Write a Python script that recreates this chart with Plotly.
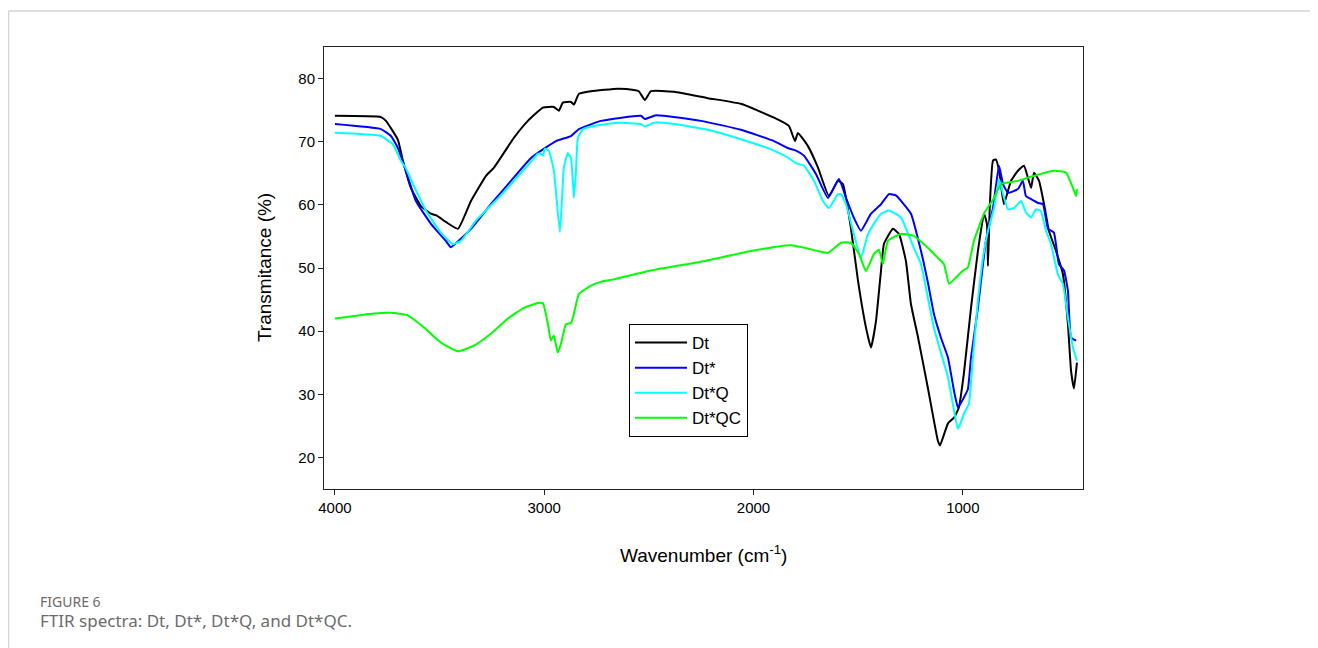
import plotly.graph_objects as go

# ---------------- data ----------------
dt_w = [4000, 3780, 3756, 3699, 3675, 3637, 3589, 3541, 3513, 3470, 3412, 3350, 3278, 3240, 3145,
        3078, 3006, 2954, 2930, 2911, 2872, 2858, 2834, 2777, 2648, 2571, 2548, 2519, 2490, 2380,
        2218, 2060, 1902, 1831, 1802, 1788, 1740, 1692, 1640, 1597, 1573, 1535, 1501, 1463, 1439,
        1415, 1391, 1377, 1334, 1305, 1272, 1248, 1214, 1167, 1119, 1109, 1071, 1042, 1019, 995,
        961, 928, 899, 885, 880, 871, 856, 842, 827, 804, 770, 737, 708, 689, 674,
        660, 636, 612, 589, 555, 522, 498, 483, 469, 455]
dt_t = [74.1, 73.9, 73.3, 70.3, 67.0, 62.7, 59.8, 58.6, 58.3, 57.3, 56.2, 60.6, 64.6, 65.9, 70.6,
        73.3, 75.4, 75.5, 74.9, 76.2, 76.3, 75.9, 77.6, 78.0, 78.4, 78.2, 78.0, 76.6, 78.0, 77.9,
        76.9, 76.0, 73.8, 72.5, 70.1, 71.4, 69.3, 65.9, 61.4, 63.8, 63.3, 56.4, 48.0, 40.6, 37.4,
        41.6, 49.6, 53.8, 56.2, 55.4, 51.1, 44.3, 39.0, 31.0, 22.6, 21.9, 25.4, 26.3, 27.9, 33.3,
        43.7, 52.7, 58.6, 57.0, 50.3, 60.0, 67.0, 67.2, 65.4, 60.1, 63.8, 65.4, 66.2, 64.3, 62.7,
        65.1, 63.8, 60.1, 55.9, 52.7, 49.0, 41.1, 33.7, 30.9, 35.0]

dts_w = [4000, 3780, 3732, 3699, 3661, 3613, 3541, 3470, 3446, 3350, 3255, 3159, 3064, 2944, 2872,
         2834, 2729, 2538, 2519, 2466, 2251, 2060, 1902, 1836, 1797, 1759, 1702, 1644, 1592, 1558,
         1520, 1487, 1439, 1391, 1353, 1320, 1248, 1200, 1167, 1138, 1105, 1071, 1042, 1023, 995,
         976, 961, 928, 890, 856, 842, 827, 808, 784, 737, 713, 699, 674, 641, 617,
         593, 565, 541, 517, 498, 483, 459]
dts_t = [72.8, 72.0, 70.9, 69.0, 65.4, 60.6, 57.0, 54.3, 53.3, 56.2, 60.1, 63.8, 67.4, 70.1, 70.9,
         72.0, 73.3, 74.1, 73.6, 74.2, 73.3, 71.9, 70.1, 69.0, 68.6, 67.8, 64.9, 61.1, 64.1, 61.1,
         57.9, 55.9, 58.6, 60.1, 61.7, 61.5, 58.6, 52.7, 47.7, 42.7, 39.0, 35.8, 30.5, 27.9, 29.5,
         30.8, 35.8, 43.7, 54.3, 59.5, 63.0, 66.2, 63.3, 61.9, 62.5, 63.8, 61.4, 60.9, 60.3, 60.1,
         56.2, 55.6, 50.6, 49.6, 46.4, 39.0, 38.5]

dtq_w = [4000, 3780, 3723, 3685, 3661, 3627, 3565, 3494, 3436, 3398, 3326, 3207, 3159, 3064, 3030,
         3016, 3006, 2997, 2978, 2954, 2925, 2906, 2887, 2872, 2858, 2849, 2839, 2815, 2763, 2648,
         2538, 2519, 2476, 2380, 2218, 2060, 1902, 1836, 1797, 1759, 1711, 1668, 1640, 1597, 1582,
         1558, 1525, 1487, 1453, 1415, 1391, 1353, 1296, 1234, 1200, 1167, 1138, 1105, 1071, 1042,
         1023, 995, 971, 952, 928, 904, 880, 851, 827, 808, 784, 756, 722, 699, 674,
         651, 627, 603, 579, 546, 522, 498, 474, 455]
dtq_t = [71.4, 70.9, 69.6, 67.0, 65.8, 63.3, 59.1, 55.6, 53.8, 54.3, 57.5, 61.5, 63.3, 66.8, 68.1,
         68.1, 67.8, 68.9, 68.6, 65.4, 55.7, 65.9, 68.2, 67.4, 61.1, 64.9, 70.6, 72.0, 72.5, 73.0,
         72.8, 72.4, 73.0, 72.8, 71.9, 70.4, 68.6, 67.5, 66.6, 66.2, 63.8, 60.6, 59.5, 61.7, 61.7,
         60.1, 55.9, 51.6, 55.4, 57.5, 58.6, 59.1, 58.0, 53.2, 50.6, 45.3, 40.5, 36.6, 32.7, 27.4,
         24.5, 26.9, 28.5, 35.8, 44.8, 51.6, 55.9, 59.5, 64.1, 61.7, 59.3, 59.5, 60.6, 58.8, 58.0,
         59.3, 59.0, 55.9, 53.8, 49.0, 47.5, 42.1, 37.4, 35.3]

dtqc_w = [4000, 3814, 3732, 3651, 3575, 3494, 3412, 3336, 3255, 3173, 3097, 3025, 3006, 2982, 2968,
          2954, 2935, 2920, 2896, 2872, 2858, 2834, 2777, 2729, 2667, 2490, 2251, 2012, 1821, 1692,
          1644, 1582, 1535, 1496, 1463, 1425, 1401, 1382, 1358, 1296, 1234, 1167, 1119, 1090, 1066,
          1033, 999, 976, 947, 899, 851, 818, 737, 660, 565, 507, 474, 459, 455]
dtqc_t = [42.0, 42.8, 42.9, 42.5, 40.6, 38.2, 36.8, 37.7, 39.6, 42.0, 43.7, 44.5, 44.4, 41.1, 38.5,
          39.3, 36.6, 38.0, 41.1, 41.3, 42.8, 45.9, 47.2, 47.8, 48.2, 49.6, 51.0, 52.7, 53.6, 52.7,
          52.4, 54.0, 54.0, 52.2, 49.5, 52.2, 52.9, 50.6, 54.3, 55.4, 55.1, 53.2, 51.6, 50.6, 47.5,
          48.5, 49.6, 50.1, 54.3, 58.6, 61.1, 63.3, 63.8, 64.6, 65.4, 65.1, 62.7, 61.4, 62.5]

series_names = ["Dt", "Dt*", "Dt*Q", "Dt*QC"]
series_colors = ["#000000", "#0000ff", "#00ffff", "#00ff00"]
x_ticks = [4000, 3000, 2000, 1000]
y_ticks = [20, 30, 40, 50, 60, 70, 80]

series = [(dt_w, dt_t), (dts_w, dts_t), (dtq_w, dtq_t), (dtqc_w, dtqc_t)]
for w, t in series:
    assert len(w) == len(t), (len(w), len(t))

# ---------------- figure ----------------
fig = go.Figure()
for (w, t), name, col in zip(series, series_names, series_colors):
    fig.add_trace(go.Scatter(x=w, y=t, mode="lines", name=name, legendgroup=name,
                             line=dict(color=col, width=2, shape="spline", smoothing=0.4)))

arial = "Liberation Sans, Arial, sans-serif"
axis_font = dict(family=arial, size=15, color="#000")

fig.update_layout(
    width=1318, height=648,
    margin=dict(l=316, r=243, t=39, b=167),
    paper_bgcolor="white", plot_bgcolor="white",
    font=axis_font,
    showlegend=True,
    legend=dict(x=0.4018, y=0.3733, xanchor="left", yanchor="top",
                bgcolor="white", bordercolor="#000", borderwidth=1,
                font=dict(family=arial, size=17, color="#000"),
                tracegroupgap=0, itemwidth=52),
    xaxis=dict(range=[4052, 426], tickvals=x_ticks, ticktext=[str(v) for v in x_ticks],
               showgrid=False, zeroline=False, showline=True, linecolor="#222", linewidth=1,
               mirror=True, ticks="outside", ticklen=5, tickcolor="#222", tickfont=axis_font),
    yaxis=dict(range=[15, 85], tickvals=y_ticks, showgrid=False, zeroline=False,
               showline=True, linecolor="#222", linewidth=1, mirror=True,
               ticks="outside", ticklen=5, tickcolor="#222", tickfont=axis_font),
    annotations=[
        dict(text="Wavenumber (cm<sup>-1</sup>)", xref="paper", yref="paper", x=0.5, y=-0.147,
             showarrow=False, xanchor="center", yanchor="middle",
             font=dict(family=arial, size=19, color="#000")),
        dict(text="Transmitance (%)", xref="paper", yref="paper", x=-0.079, y=0.5,
             showarrow=False, textangle=-90, xanchor="center", yanchor="middle",
             font=dict(family=arial, size=19, color="#000")),
        dict(text="FIGURE 6", xref="paper", yref="paper", x=-0.3769, y=-0.2534,
             showarrow=False, xanchor="left", yanchor="middle",
             font=dict(family="Noto Sans, Open Sans, sans-serif", size=14, color="#6b6b6b")),
        dict(text="FTIR spectra: Dt, Dt*, Dt*Q, and Dt*QC.", xref="paper", yref="paper",
             x=-0.3769, y=-0.2964, showarrow=False, xanchor="left", yanchor="middle",
             font=dict(family="Noto Sans, Open Sans, sans-serif", size=17, color="#6b6b6b")),
    ],
    shapes=[
        dict(type="line", xref="paper", yref="paper", x0=-0.4157, x1=-0.4157, y0=-0.40, y1=1.0814,
             line=dict(color="#d4d4d4", width=1.5)),
        dict(type="line", xref="paper", yref="paper", x0=-0.4157, x1=1.33, y0=1.0814, y1=1.0814,
             line=dict(color="#d4d4d4", width=1.5)),
    ],
)

fig.write_html("out.html")
